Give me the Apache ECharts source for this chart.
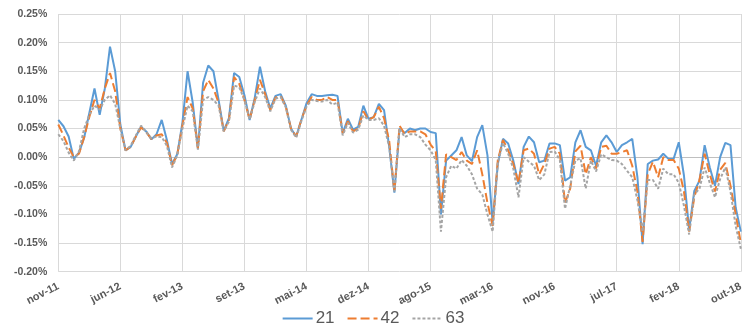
<!DOCTYPE html>
<html>
<head>
<meta charset="utf-8">
<script src="https://cdn.jsdelivr.net/npm/echarts@6/dist/echarts.min.js"></script>
<style>
  html, body { margin: 0; padding: 0; background: #fff; }
  #chart { width: 746px; height: 331px; }
</style>
</head>
<body>
<div id="chart"></div>
<script>
// Axis labels: one label every 12 observations
const tickLabels = ['nov-11', 'jun-12', 'fev-13', 'set-13', 'mai-14', 'dez-14',
                    'ago-15', 'mar-16', 'nov-16', 'jul-17', 'fev-18', 'out-18'];
const stepsPerLabel = 12;

// Series values, in percent
const s21 = [
  0.065, 0.054, 0.036, -0.003, 0.008, 0.034, 0.077, 0.12, 0.074, 0.12, 0.193, 0.15,
  0.057, 0.012, 0.018, 0.036, 0.053, 0.045, 0.031, 0.04, 0.065, 0.03, -0.012, 0.005,
  0.06, 0.15, 0.095, 0.015, 0.13, 0.16, 0.15, 0.1, 0.046, 0.068, 0.147, 0.14,
  0.108, 0.065, 0.104, 0.158, 0.115, 0.085, 0.107, 0.11, 0.09, 0.05, 0.036, 0.065,
  0.094, 0.11, 0.107, 0.107, 0.108, 0.109, 0.107, 0.042, 0.067, 0.048, 0.053, 0.09,
  0.067, 0.07, 0.093, 0.082, 0.018, -0.062, 0.05, 0.042, 0.05, 0.047, 0.05, 0.05,
  0.044, 0.042, -0.1, -0.006, 0.003, 0.012, 0.035, 0.003, -0.007, 0.035, 0.056, 0.003,
  -0.115, -0.012, 0.032, 0.024, -0.006, -0.047, 0.018, 0.036, 0.026, -0.009, -0.006, 0.024,
  0.024, 0.021, -0.041, -0.035, 0.026, 0.047, 0.018, 0.012, -0.015, 0.026, 0.038, 0.026,
  0.009, 0.021, 0.026, 0.032, -0.035, -0.152, -0.012, -0.006, -0.004, 0.006, -0.003, -0.003,
  0.026, -0.032, -0.127, -0.059, -0.041, 0.021, -0.018, -0.05, 0.0, 0.025, 0.021, -0.088,
  -0.13
];
const s42 = [
  0.057, 0.038, 0.017, 0.0, 0.006, 0.035, 0.07, 0.1, 0.085, 0.12, 0.147, 0.115,
  0.05, 0.012, 0.018, 0.036, 0.052, 0.044, 0.032, 0.038, 0.04, 0.025, -0.014, 0.004,
  0.055, 0.105, 0.085, 0.015, 0.115, 0.135, 0.12, 0.095, 0.045, 0.065, 0.14, 0.128,
  0.1, 0.066, 0.1, 0.135, 0.11, 0.082, 0.104, 0.107, 0.088, 0.05, 0.036, 0.065,
  0.09, 0.105, 0.1, 0.1, 0.105, 0.1, 0.1, 0.042, 0.063, 0.045, 0.05, 0.08,
  0.065, 0.07, 0.088, 0.068, 0.028, -0.06, 0.055, 0.04, 0.045, 0.045, 0.045, 0.04,
  0.022, 0.01, -0.09, 0.005, 0.0, -0.005, 0.009, -0.006, -0.012, 0.012, -0.03, -0.08,
  -0.12, -0.005, 0.03, 0.012, -0.012, -0.045, 0.012, 0.015, 0.006, -0.03, -0.012, 0.015,
  0.018, 0.006, -0.08, -0.055, 0.01, 0.02, -0.03, 0.0, -0.02, 0.018, 0.02, 0.006,
  0.006, 0.009, 0.012, -0.015, -0.06, -0.148, -0.03, -0.008, -0.035, 0.0, -0.005, -0.005,
  -0.02, -0.06, -0.13, -0.07, -0.04, 0.006, -0.03, -0.06, -0.022, -0.01, -0.05, -0.1,
  -0.15
];
const s63 = [
  0.04, 0.028, 0.008, -0.006, 0.01, 0.05, 0.074, 0.09, 0.083, 0.1, 0.108, 0.093,
  0.05, 0.012, 0.02, 0.038, 0.055, 0.044, 0.033, 0.036, 0.035, 0.02, -0.018, 0.003,
  0.05, 0.09, 0.08, 0.013, 0.1, 0.105, 0.1, 0.09, 0.045, 0.062, 0.125, 0.122,
  0.1, 0.066, 0.097, 0.12, 0.105, 0.08, 0.102, 0.105, 0.087, 0.048, 0.034, 0.063,
  0.088, 0.1, 0.098, 0.097, 0.1, 0.092, 0.095, 0.038, 0.06, 0.043, 0.048, 0.073,
  0.065, 0.065, 0.068, 0.055, 0.018, -0.06, 0.05, 0.035, 0.04, 0.04, 0.035, 0.022,
  0.012, -0.005, -0.13, -0.035, -0.015, -0.02, -0.005, -0.015, -0.03, -0.055, -0.065, -0.1,
  -0.13, -0.01, 0.025, 0.006, -0.02, -0.07, 0.0, -0.008, -0.015, -0.04, -0.03, 0.009,
  0.01, -0.005, -0.09, -0.05, -0.006, -0.002, -0.055, -0.006, -0.025, 0.005, 0.0, -0.005,
  -0.006, -0.012, -0.024, -0.035, -0.075, -0.13, -0.04, -0.04, -0.055, -0.02, -0.03, -0.03,
  -0.045, -0.085, -0.135, -0.065, -0.055, -0.018, -0.045, -0.07, -0.038, -0.018, -0.06, -0.12,
  -0.16
];

// Category names: a label at every 12th observation, blank in between
const categories = s21.map((_, i) => (i % stepsPerLabel === 0 ? tickLabels[i / stepsPerLabel] : ''));

const textColor = '#595959';
const gridColor = '#D9D9D9';
// Horizontal grid lines from -0.20% up; the zero line is a little darker
const hLineColors = [gridColor, gridColor, gridColor, gridColor, '#BFBFBF',
                     gridColor, gridColor, gridColor, gridColor, gridColor];

const chart = echarts.init(document.getElementById('chart'), null, { renderer: 'canvas' });
chart.setOption({
  animation: false,
  backgroundColor: '#fff',
  grid: { left: 58.3, right: -2.7, top: 14, bottom: 59.3, containLabel: false },
  legend: {
    bottom: -1,
    left: 'center',
    itemWidth: 30,
    itemHeight: 10,
    itemGap: 12,
    itemStyle: { opacity: 0 },
    textStyle: { color: textColor, fontSize: 17, fontFamily: 'Liberation Sans Narrow, Liberation Sans', padding: [0, 0, 0, -2] },
    data: ['21', '42', '63']
  },
  xAxis: {
    type: 'category',
    data: categories,
    boundaryGap: false,
    axisLine: { show: false },
    axisTick: { show: false },
    axisLabel: {
      interval: stepsPerLabel - 1,
      rotate: 27,
      margin: 14,
      color: textColor,
      fontSize: 11,
      fontWeight: 'bold',
      fontFamily: 'Liberation Sans'
    },
    splitLine: { show: true, interval: stepsPerLabel - 1, lineStyle: { color: gridColor, width: 1 } }
  },
  yAxis: {
    type: 'value',
    min: -0.2,
    max: 0.25,
    interval: 0.05,
    axisLine: { show: false },
    axisTick: { show: false },
    axisLabel: {
      margin: 11,
      color: textColor,
      fontSize: 10.5,
      fontWeight: 'bold',
      fontFamily: 'Liberation Sans',
      formatter: v => v.toFixed(2) + '%'
    },
    splitLine: { show: true, lineStyle: { color: hLineColors, width: 1 } }
  },
  series: [
    {
      name: '21', type: 'line', data: s21, symbol: 'none',
      lineStyle: { color: '#5B9BD5', width: 2 },
      itemStyle: { color: '#5B9BD5' }
    },
    {
      name: '42', type: 'line', data: s42, symbol: 'none',
      lineStyle: { color: '#ED7D31', width: 2, type: [9, 4] },
      itemStyle: { color: '#ED7D31' }
    },
    {
      name: '63', type: 'line', data: s63, symbol: 'none',
      lineStyle: { color: '#A5A5A5', width: 2, type: [3, 2] },
      itemStyle: { color: '#A5A5A5' }
    }
  ]
});
</script>
</body>
</html>
